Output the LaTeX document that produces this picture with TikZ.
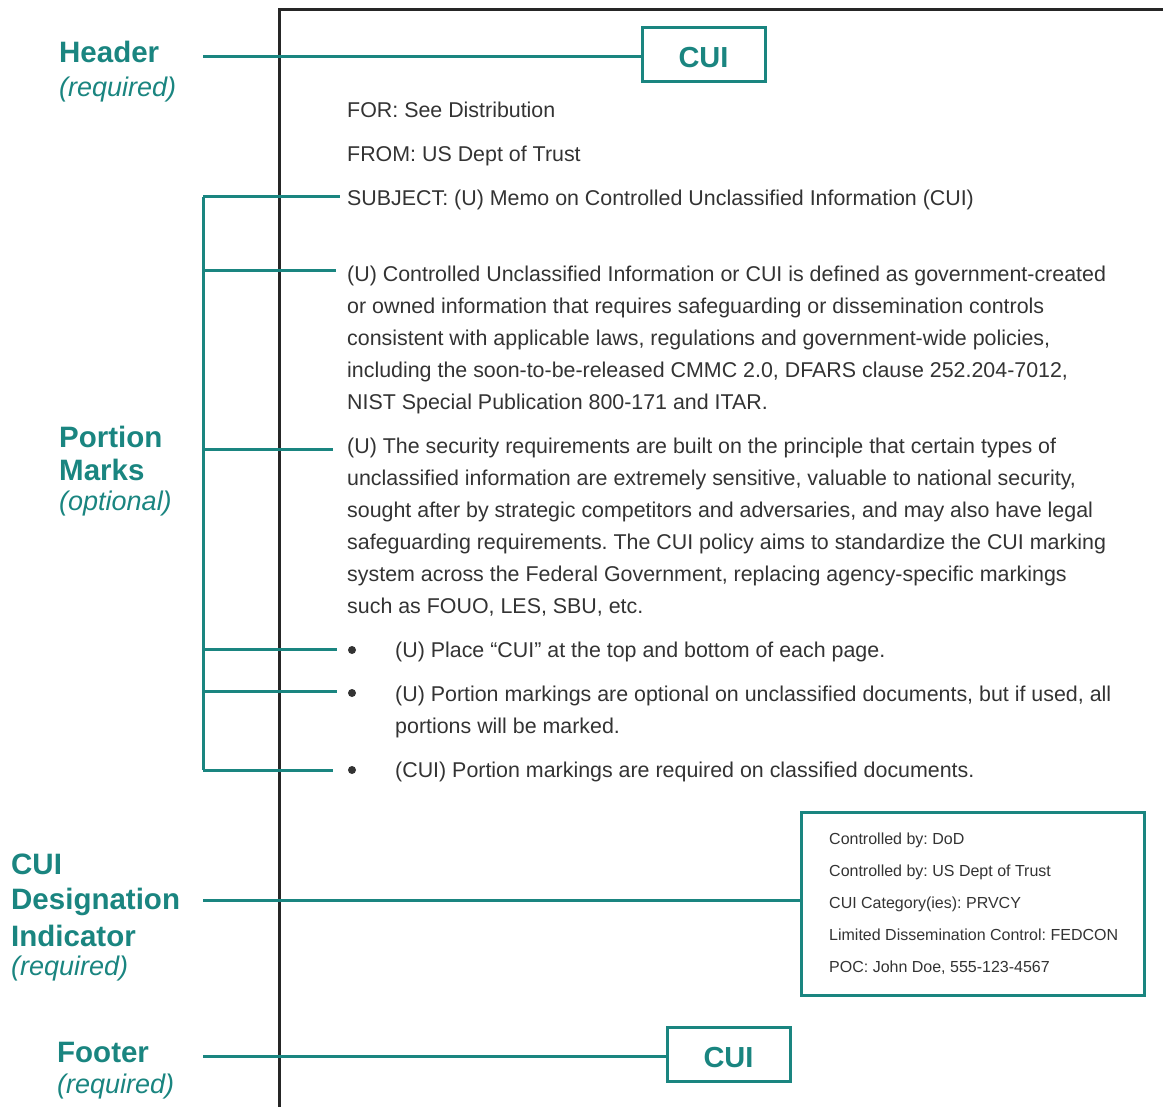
\documentclass[tikz,border=0pt]{standalone}
\usepackage{fontspec}
\setmainfont{Liberation Sans}
\definecolor{teal}{RGB}{26,133,128}
\definecolor{bodytext}{RGB}{51,51,51}
\begin{document}
\frenchspacing
\begin{tikzpicture}[x=1pt,y=-1pt,
  lbl/.style={anchor=base west,inner sep=0pt,text=teal,font=\fontsize{29.5}{35}\selectfont\bfseries},
  lblit/.style={anchor=base west,inner sep=0pt,text=teal,font=\fontsize{27}{30}\selectfont\itshape},
  body/.style={anchor=base west,inner sep=0pt,text=bodytext,font=\fontsize{21.4}{25}\selectfont\frenchspacing},
  small/.style={anchor=base west,inner sep=0pt,text=bodytext,font=\fontsize{16}{19}\selectfont\frenchspacing},
  cuibox/.style={draw=teal,line width=3pt,minimum width=123pt,minimum height=54pt,inner sep=0pt,text height=26pt,text depth=0pt,text=teal,font=\fontsize{29}{34}\selectfont\bfseries},
  conn/.style={draw=teal,line width=3pt},
  bul/.style={circle,fill=bodytext,inner sep=0pt,minimum size=8pt}]
\useasboundingbox (0,0) rectangle (1163,1107);
% page edge
\draw[line width=3pt,black!85] (279,1107) -- (279,10) -- (1163,10);
% left labels
\node[lbl] (hdr) at (59,63) {Header};
\node[lblit] (hdrr) at (59,97) {(required)};
\node[lbl] (por1) at (59,447) {Portion};
\node[lbl] (por2) at (59,481) {Marks};
\node[lblit] (poro) at (59,510) {(optional)};
\node[lbl] (des1) at (11,874) {CUI};
\node[lbl] (des2) at (11,909) {Designation};
\node[lbl] (des3) at (11,946) {Indicator};
\node[lblit] (desr) at (11,975) {(required)};
\node[lbl] (ftr) at (57,1062) {Footer};
\node[lblit] (ftrr) at (57,1093) {(required)};
% boxes
\node[cuibox] (top) at (703.5,55) {CUI};
\node[cuibox] (bot) at (728.5,1054.5) {CUI};
\node[draw=teal,line width=3pt,minimum width=343pt,minimum height=183pt,inner sep=0pt] (dbox) at (972.5,903.5) {};
% body text
\node[body] (for) at (347,117.5) {FOR: See Distribution};
\node[body] (from) at (347,161.5) {FROM: US Dept of Trust};
\node[body] (subj) at (347,205.5) {SUBJECT: (U) Memo on Controlled Unclassified Information (CUI)};
\node[body] (p1a) at (347,281.5) {(U) Controlled Unclassified Information or CUI is defined as government-created};
\node[body] (p1b) at (347,313.5) {or owned information that requires safeguarding or dissemination controls};
\node[body] (p1c) at (347,345.5) {consistent with applicable laws, regulations and government-wide policies,};
\node[body] (p1d) at (347,377.5) {including the soon-to-be-released CMMC 2.0, DFARS clause 252.204-7012,};
\node[body] (p1e) at (347,409.5) {NIST Special Publication 800-171 and ITAR.};
\node[body] (p2a) at (347,453.5) {(U) The security requirements are built on the principle that certain types of};
\node[body] (p2b) at (347,485.5) {unclassified information are extremely sensitive, valuable to national security,};
\node[body] (p2c) at (347,517.5) {sought after by strategic competitors and adversaries, and may also have legal};
\node[body] (p2d) at (347,549.5) {safeguarding requirements. The CUI policy aims to standardize the CUI marking};
\node[body] (p2e) at (347,581.5) {system across the Federal Government, replacing agency-specific markings};
\node[body] (p2f) at (347,613.5) {such as FOUO, LES, SBU, etc.};
\node[bul] (b1) at (352,650) {};
\node[body] (b1t) at (395,657.5) {(U) Place “CUI” at the top and bottom of each page.};
\node[bul] (b2) at (352,693) {};
\node[body] (b2t) at (395,701.5) {(U) Portion markings are optional on unclassified documents, but if used, all};
\node[body] (b2u) at (395,733.5) {portions will be marked.};
\node[bul] (b3) at (352,770) {};
\node[body] (b3t) at (395,777.5) {(CUI) Portion markings are required on classified documents.};
% designation box text
\node[small] (d1) at (829,844) {Controlled by: DoD};
\node[small] (d2) at (829,876) {Controlled by: US Dept of Trust};
\node[small] (d3) at (829,908) {CUI Category(ies): PRVCY};
\node[small] (d4) at (829,940) {Limited Dissemination Control: FEDCON};
\node[small] (d5) at (829,972) {POC: John Doe, 555-123-4567};
% connectors
\coordinate (hs) at (203,57);
\coordinate (ds) at (203,900);
\coordinate (fs) at (203,1056);
\draw[conn] (hs) -- (top.west |- hs);
\draw[conn] (ds) -- (dbox.west |- ds);
\draw[conn] (fs) -- (bot.west |- fs);
% portion bracket
\coordinate (pt) at (203,197);
\coordinate (pb) at (203,770);
\draw[conn] (pt) -- (pb);
\draw[conn] (pt) -- ([xshift=-7pt]subj.west |- pt);
\draw[conn] (203,271) -- ([xshift=-11pt]p1a.west |- 0,271);
\draw[conn] (203,450) -- ([xshift=-14pt]p2a.west |- 0,450);
\draw[conn] (203,649) -- ([xshift=-11pt]b1.west |- 0,649);
\draw[conn] (203,691) -- ([xshift=-11pt]b2.west |- 0,691);
\draw[conn] (pb) -- ([xshift=-15pt]b3.west |- pb);
\end{tikzpicture}
\end{document}
